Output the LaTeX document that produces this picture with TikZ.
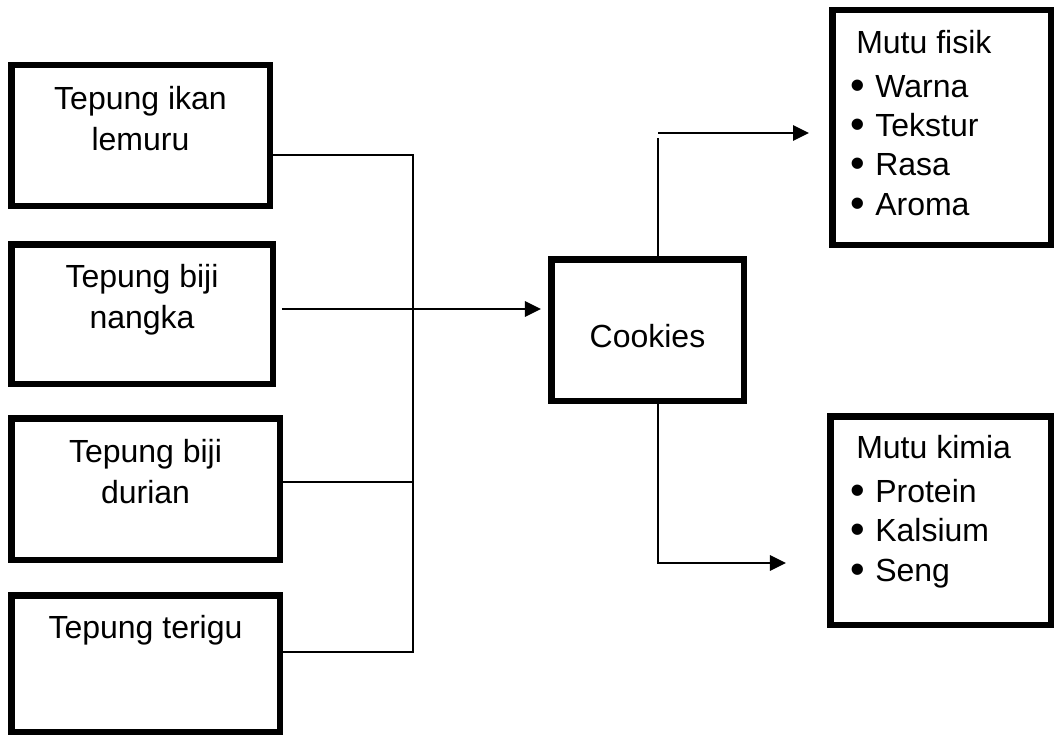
\documentclass[tikz,border=0pt]{standalone}
\usepackage{fontspec}
\setmainfont{Liberation Sans}
\usepackage{graphicx}
\usetikzlibrary{arrows.meta}

% bullet with a fixed-width column so item texts line up
\newcommand{\itembul}{\makebox[18.75pt][l]{\raisebox{-1.5pt}{\scalebox{1.3}{\textbullet}}}}

\begin{document}
\begin{tikzpicture}[x=0.75pt,y=-0.75pt,
  box/.style={draw, line width=4.875pt, inner sep=0pt, outer sep=0pt},
  link/.style={line width=1.5pt},
  arr/.style={link, -{Triangle[length=12pt,width=11.5pt]}},
  txt/.style={font=\fontsize{24pt}{30.75pt}\selectfont, inner sep=0pt, align=center},
  lst/.style={font=\fontsize{24pt}{29.5pt}\selectfont, inner sep=0pt, align=left}]

\useasboundingbox (0,0) rectangle (1055,735);

% input boxes
\node[box, minimum width={258.5*0.75pt}, minimum height={140.5*0.75pt}] (B1) at (140.5,135.5) {};
\node[box, minimum width={261.5*0.75pt}, minimum height={139.5*0.75pt}] (B2) at (142,314) {};
\node[box, minimum width={268.5*0.75pt}, minimum height={141.5*0.75pt}] (B3) at (145.5,489) {};
\node[box, minimum width={268.5*0.75pt}, minimum height={136.5*0.75pt}] (B4) at (145.5,663.5) {};

% product and quality boxes
\node[box, minimum width={192.5*0.75pt}, minimum height={141.5*0.75pt}] (C) at (647.5,330) {};
\node[box, minimum width={218.5*0.75pt}, minimum height={234.5*0.75pt}] (R1) at (941.5,127.5) {};
\node[box, minimum width={220.5*0.75pt}, minimum height={208.5*0.75pt}] (R2) at (940.5,520.5) {};

% labels (base anchor = baseline of the last line)
\node[txt, anchor=base] (T1) at (140.5,150) {Tepung ikan\\lemuru};
\node[txt, anchor=base] (T2) at (142,328) {Tepung biji\\nangka};
\node[txt, anchor=base] (T3) at (145.5,503) {Tepung biji\\durian};
\node[txt, anchor=base] (T4) at (145.5,638) {Tepung terigu};
\node[txt, anchor=base] (TC) at (647.5,347) {Cookies};

\node[lst, anchor=base west] (L1) at (850,215)
  {\hspace{4.5pt}Mutu fisik\\[3.5pt]\itembul Warna\\\itembul Tekstur\\\itembul Rasa\\\itembul Aroma};
\node[lst, anchor=base west] (L2) at (850,581)
  {\hspace{4.5pt}Mutu kimia\\[3.5pt]\itembul Protein\\\itembul Kalsium\\\itembul Seng};

% collecting lines
\coordinate (m1) at (413,155);
\coordinate (m3) at (413,482);
\coordinate (m4) at (413,652);
\draw[link] (B1.east |- m1) -- (m1) -- (m4) -- (B4.east |- m4);
\draw[link] (B3.east |- m3) -- (m3);

\coordinate (a2) at (282,309);
\draw[arr, shorten <=6.9pt, shorten >=7.7pt] (B2.east |- a2) -- (C.west |- a2);

% outputs
\coordinate (upv) at (658,138);
\coordinate (up) at (658,133);
\coordinate (dn) at (658,563);
\draw[link] (C.north -| upv) -- (upv);
\draw[arr, shorten >=17.4pt] (up) -- (R1.west |- up);
\draw[arr, shorten >=33.2pt] (C.south -| dn) -- (dn) -- (R2.west |- dn);

\end{tikzpicture}
\end{document}
